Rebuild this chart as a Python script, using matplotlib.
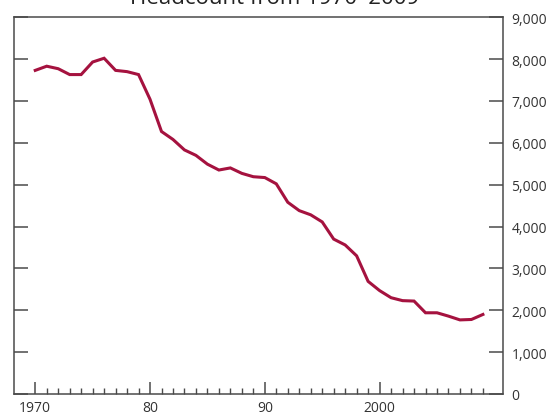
import matplotlib
matplotlib.use('Agg')
import matplotlib.pyplot as plt
from matplotlib.ticker import FixedLocator, FuncFormatter

plt.rcParams['font.family'] = ['Open Sans', 'DejaVu Sans']

# Plantilla por año (lectura aproximada del gráfico)
years = list(range(1970, 2010))
headcount = [7730, 7830, 7770, 7630, 7630, 7930, 8020, 7730, 7700, 7630,
             7040, 6270, 6080, 5830, 5700, 5490, 5350, 5400, 5270, 5190,
             5170, 5020, 4580, 4380, 4280, 4110, 3700, 3560, 3300, 2690,
             2470, 2300, 2230, 2220, 1940, 1940, 1860, 1770, 1780, 1900]

major_years = [1970, 1980, 1990, 2000]
major_labels = ['1970', '80', '90', '2000']
minor_years = [y for y in years if y not in major_years]
y_ticks = list(range(0, 10000, 1000))

spine_col = '#4a4a4a'
text_col = '#333333'

fig = plt.figure(figsize=(5.49, 4.14), dpi=100)
ax = fig.add_axes([0.0255, 0.0459, 0.8907, 0.9101])

ax.plot(years, headcount, color='#A5123F', linewidth=2.2, solid_joinstyle='miter')

ax.set_xlim(1968.15, 2010.75)
ax.set_ylim(0, 9000)

ax.set_xticks(major_years)
ax.set_xticklabels(major_labels)
ax.xaxis.set_minor_locator(FixedLocator(minor_years))
ax.set_yticks(y_ticks)
ax.yaxis.set_major_formatter(FuncFormatter(lambda v, p: f'{int(v):,}'))

ax.tick_params(axis='x', which='major', direction='in', length=9, width=1.1,
               color=spine_col, labelsize=10, labelcolor=text_col, pad=4, top=False)
ax.tick_params(axis='x', which='minor', direction='in', length=4.3, width=1.0,
               color=spine_col, top=False)
ax.tick_params(axis='y', which='major', direction='in', length=10, width=1.1,
               color=spine_col, labelsize=10, labelcolor=text_col,
               left=True, right=True, labelleft=False, labelright=True, pad=6)

for s in ax.spines.values():
    s.set_color(spine_col)
    s.set_linewidth(1.1)

fig.text(0.5, 1 - 4 / 414, 'Headcount from 1970\u20132009', ha='center', va='baseline',
         fontsize=16, color='#222222')

fig.savefig('out.png', dpi=100)
